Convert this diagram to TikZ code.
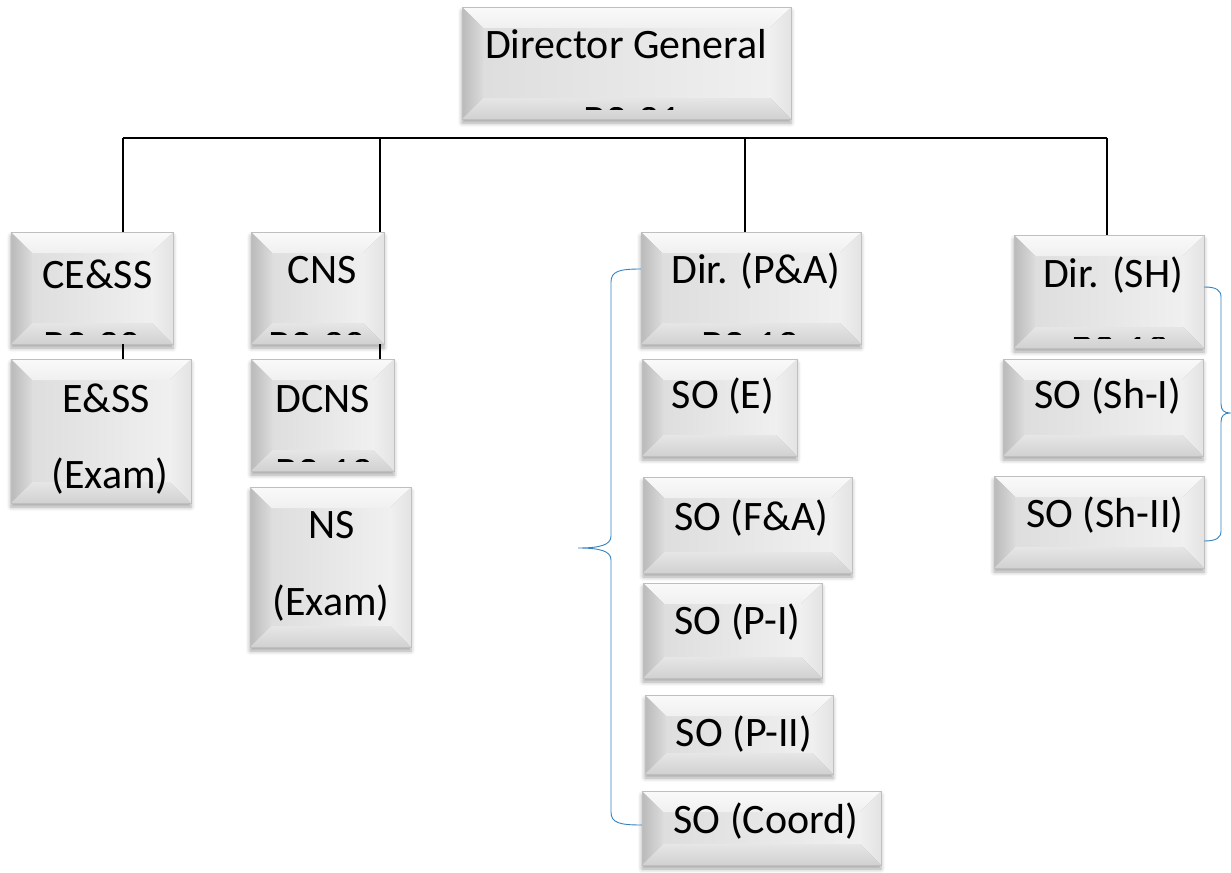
\documentclass[tikz,border=0pt]{standalone}
\usepackage{fontspec}
\setmainfont{Carlito}
\usetikzlibrary{calc,shadows.blur}

\newcommand{\lbfont}{\fontsize{42.1}{50}\selectfont}
\newcommand{\bv}{21}

\tikzset{
  bbox/.style={
    draw=black!25, line width=0.4bp, inner sep=0pt,
    blur shadow={shadow xshift=0bp, shadow yshift=-4bp,
                 shadow blur radius=4bp, shadow opacity=35},
    path picture={
      \coordinate (q1) at (path picture bounding box.north west);
      \coordinate (q2) at (path picture bounding box.north east);
      \coordinate (q3) at (path picture bounding box.south east);
      \coordinate (q4) at (path picture bounding box.south west);
      \coordinate (i1) at ($(q1)+(\bv bp,-\bv bp)$);
      \coordinate (i2) at ($(q2)+(-\bv bp,-\bv bp)$);
      \coordinate (i3) at ($(q3)+(-\bv bp,\bv bp)$);
      \coordinate (i4) at ($(q4)+(\bv bp,\bv bp)$);
      % inner face
      \shade[left color=black!13, right color=black!6] (i1) rectangle (i3);
      % top bevel
      \shade[top color=black!2, bottom color=black!6] (q1) -- (q2) -- (i2) -- (i1) -- cycle;
      % left bevel
      \shade[left color=black!27, right color=black!14] (q1) -- (i1) -- (i4) -- (q4) -- cycle;
      % right bevel
      \shade[left color=black!6, right color=black!11] (q2) -- (q3) -- (i3) -- (i2) -- cycle;
      % bottom bevel
      \shade[top color=black!10, bottom color=black!18] (q4) -- (i4) -- (i3) -- (q3) -- cycle;
    }},
  lbl/.style={anchor=base, inner sep=0pt, font=\lbfont, text=black},
  wire/.style={draw=black, line width=1.4bp},
  brace/.style={draw=blue!45!cyan!70!black!80, line width=0.9bp}
}

% second line of a box, cut off so that only the tops of its glyphs show
\newcommand{\subline}[4]{%
  \begin{scope}
    \path (#1.south west) ++(0bp,10.2bp) coordinate (#1-c1);
    \path (#1.south east) ++(0bp,#4bp) coordinate (#1-c2);
    \clip (#1-c1) rectangle (#1-c2);
    \node[lbl] (#1-sub) at ($(#1.south)+(#2bp,-15bp)$) {#3};
  \end{scope}}

\begin{document}
\begin{tikzpicture}[x=1bp, y=-1bp]
  \useasboundingbox (0,0) rectangle (1231,873);

  % boxes
  \node[bbox, minimum width=329bp, minimum height=112bp] (dg)    at (626.5,63)   {};
  \node[bbox, minimum width=162bp, minimum height=112bp] (cess)  at (92,288)     {};
  \node[bbox, minimum width=180bp, minimum height=144bp] (ess)   at (101,431)    {};
  \node[bbox, minimum width=133bp, minimum height=112bp] (cns)   at (317.5,288)  {};
  \node[bbox, minimum width=143bp, minimum height=112bp] (dcns)  at (322.5,415)  {};
  \node[bbox, minimum width=161bp, minimum height=160bp] (ns)    at (330.5,567)  {};
  \node[bbox, minimum width=220bp, minimum height=112bp] (pa)    at (751,288)    {};
  \node[bbox, minimum width=155bp, minimum height=97bp]  (soe)   at (719.5,407.5){};
  \node[bbox, minimum width=209bp, minimum height=96bp]  (sofa)  at (747.5,525)  {};
  \node[bbox, minimum width=179bp, minimum height=95bp]  (sop1)  at (732.5,630.5){};
  \node[bbox, minimum width=188bp, minimum height=79bp]  (sop2)  at (739,734.5)  {};
  \node[bbox, minimum width=239bp, minimum height=74bp]  (soc)   at (761.5,828)  {};
  \node[bbox, minimum width=190bp, minimum height=113bp] (sh)    at (1109,291.5) {};
  \node[bbox, minimum width=200bp, minimum height=97bp]  (sosh1) at (1103,407.5) {};
  \node[bbox, minimum width=210bp, minimum height=92bp]  (sosh2) at (1099,522)   {};

  % labels
  \node[lbl] (dg-t)    at (626,58)   {Director General};
  \node[lbl] (cess-t)  at (97.5,288) {CE\&SS};
  \node[lbl] (ess-t)   at (106,412)  {E\&SS};
  \node[lbl] (ess-t2)  at (110,488)  {(Exam)};
  \node[lbl] (cns-t)   at (322,283)  {CNS};
  \node[lbl] (dcns-t)  at (323,412)  {DCNS};
  \node[lbl] (ns-t)    at (331.5,538){NS};
  \node[lbl] (ns-t2)   at (331,615)  {(Exam)};
  \node[lbl] (pa-t)    at (756,283)  {Dir. (P\&A)};
  \node[lbl] (soe-t)   at (723,408)  {SO (E)};
  \node[lbl] (sofa-t)  at (751.5,530){SO (F\&A)};
  \node[lbl] (sop1-t)  at (737.5,634){SO (P-I)};
  \node[lbl] (sop2-t)  at (744,746)  {SO (P-II)};
  \node[lbl] (soc-t)   at (766,833)  {SO (Coord)};
  \node[lbl] (sh-t)    at (1113,287) {Dir. (SH)};
  \node[lbl] (sosh1-t) at (1108,408) {SO (Sh-I)};
  \node[lbl] (sosh2-t) at (1105,527) {SO (Sh-II)};

  % clipped second lines
  \subline{dg}{6}{BS-21}{12}
  \subline{cess}{0}{BS-20}{12}
  \subline{cns}{0}{BS-20}{12}
  \subline{dcns}{1.5}{BS-19}{12}
  \subline{pa}{-1}{BS-19}{12}
  \subline{sh}{11}{BS-19}{11}

  % bus and drops
  \coordinate (b1) at (123,138);
  \coordinate (b2) at (380,138);
  \coordinate (b3) at (745,138);
  \coordinate (b4) at (1107,138);
  \draw[wire] (b1) -- (b4);
  \draw[wire] (b1) -- (b1 |- cess.north);
  \draw[wire] (b2) -- (b2 |- cns.north);
  \draw[wire] (b3) -- (b3 |- pa.north);
  \draw[wire] (b4) -- (b4 |- sh.north);
  \draw[wire] (b1 |- cess.south) -- (b1 |- ess.north);
  \draw[wire] (b2 |- cns.south) -- (b2 |- dcns.north);

  % braces
  \coordinate (la) at (pa.west |- 0,269);
  \coordinate (lb) at (soc.west |- 0,825);
  \draw[brace] (la) .. controls (620,269) and (611,271) .. (611,282)
    -- (611,536) .. controls (611,545) and (600,548) .. (578,548)
    .. controls (600,548) and (611,551) .. (611,560)
    -- (611,812) .. controls (611,823) and (620,825) .. (lb);
  \coordinate (ra) at (sh.east |- 0,287);
  \coordinate (rb) at (sosh2.east |- 0,541);
  \draw[brace] (ra) .. controls (1216,287) and (1221,290) .. (1221,297)
    -- (1221,404) .. controls (1221,410) and (1224,413) .. (1230,413)
    .. controls (1224,413) and (1221,416) .. (1221,422)
    -- (1221,531) .. controls (1221,538) and (1216,541) .. (rb);
\end{tikzpicture}
\end{document}
